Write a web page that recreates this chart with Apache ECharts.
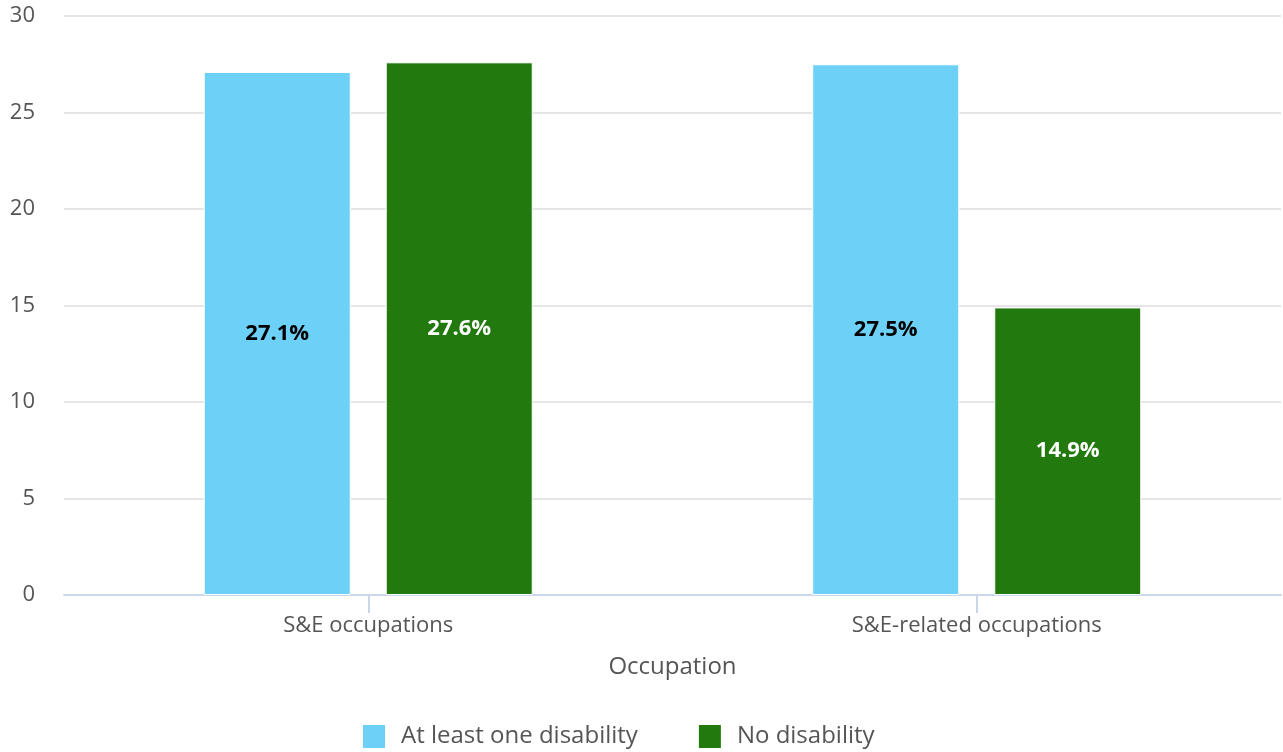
<!DOCTYPE html>
<html><head><meta charset="utf-8">
<script src="https://cdn.jsdelivr.net/npm/echarts@6/dist/echarts.min.js"></script>
<style>html,body{margin:0;padding:0;background:#fff}#c{width:1283px;height:752px}</style>
</head><body><div id="c"></div>
<script>
const categories = ["S&E occupations", "S&E-related occupations"];
const seriesNames = ["At least one disability", "No disability"];
const atLeastOne = [27.1, 27.5];
const noDisability = [27.6, 14.9];
const colors = ["#6dd0f7", "#227a0f"];
const labelColors = ["#000000", "#ffffff"];
const FONT = "Open Sans";
const chart = echarts.init(document.getElementById('c'));
const mk = (i, data) => ({
  name: seriesNames[i], type: 'bar', data: data,
  barWidth: 147, barGap: '23.8%',
  itemStyle: {color: colors[i], borderColor: '#fff', borderWidth: 1},
  label: {show: true, position: 'inside', formatter: p => p.value.toFixed(1) + '%',
    color: labelColors[i], fontFamily: FONT, fontWeight: 'bold', fontSize: 22},
  emphasis: {disabled: true}
});
chart.setOption({
  animation: false,
  textStyle: {fontFamily: FONT},
  grid: {left: 64, right: 2, top: 16, bottom: 157},
  legend: {top: 723, left: 361, padding: 0, itemWidth: 24, itemHeight: 25, itemGap: 59,
    icon: 'rect', textStyle: {fontFamily: FONT, fontSize: 24, color: '#555', padding: [0, 0, 0, 10]}},
  xAxis: {type: 'category', data: categories, name: 'Occupation', nameLocation: 'middle',
    nameGap: 60, nameTextStyle: {fontFamily: FONT, fontSize: 24, color: '#555'},
    axisLine: {show: true, lineStyle: {color: '#ccd6eb', width: 2}},
    axisTick: {show: true, alignWithLabel: true, length: 18, lineStyle: {color: '#ccd6eb', width: 2}},
    axisLabel: {fontFamily: FONT, fontSize: 22, color: '#555', margin: 20}},
  yAxis: {type: 'value', min: 0, max: 30, interval: 5,
    axisLabel: {fontFamily: FONT, fontSize: 22, color: '#555', margin: 29},
    splitLine: {lineStyle: {color: '#e6e6e6', width: 2}}},
  series: [mk(0, atLeastOne), mk(1, noDisability)]
});
</script></body></html>
